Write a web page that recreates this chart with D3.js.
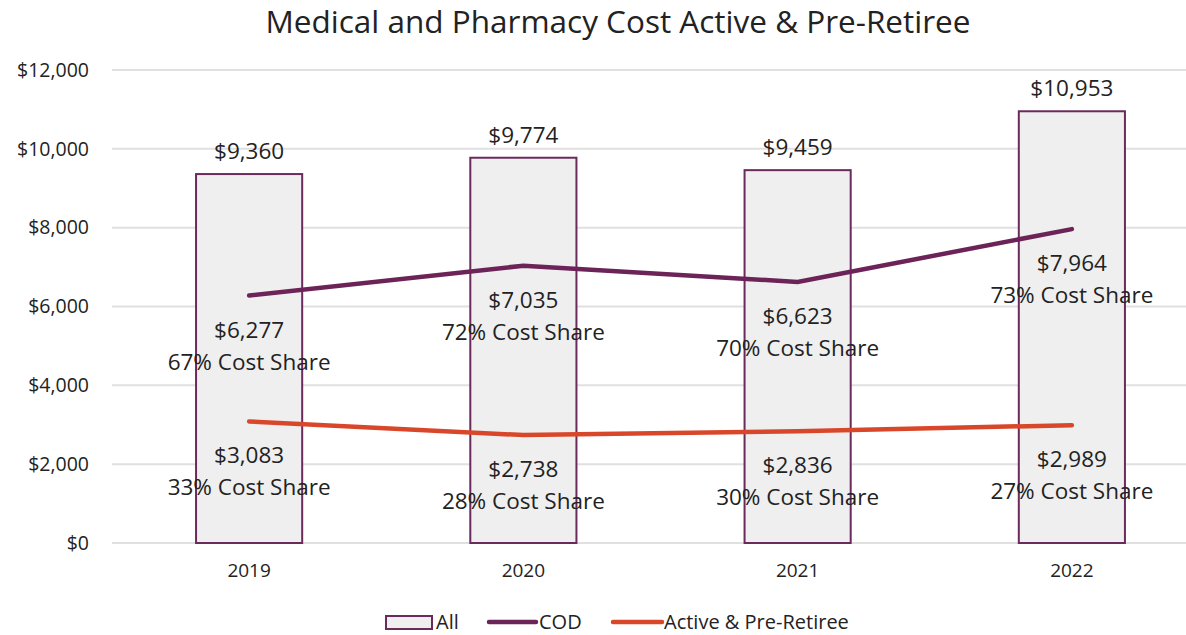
<!DOCTYPE html>
<html>
<head>
<meta charset="utf-8">
<script src="https://cdn.jsdelivr.net/npm/d3@7"></script>
<style>
  body { margin: 0; background: #fff; }
  text { font-family: "Open Sans", "Noto Sans", sans-serif; fill: #222; }
</style>
</head>
<body>
<div class="chart"></div>
<script>
// chart data
var years = ["2019", "2020", "2021", "2022"];
var allCost = [9360, 9774, 9459, 10953];
var codCost = [6277, 7035, 6623, 7964];
var codShare = [67, 72, 70, 73];
var activeCost = [3083, 2738, 2836, 2989];
var activeShare = [33, 28, 30, 27];
var yTicks = [0, 2000, 4000, 6000, 8000, 10000, 12000];

var svgWidth = 1186;
var svgHeight = 635;

var margin = { top: 70, left: 112 };
var plotRight = 1209;
var plotBottom = 543;

var svg = d3.select(".chart")
  .append("svg")
  .attr("width", svgWidth)
  .attr("height", svgHeight);

var x = d3.scaleBand()
  .domain(years)
  .range([margin.left, plotRight])
  .paddingInner(0.613)
  .paddingOuter(0.3065);

var xc = d => x(d) + x.bandwidth() / 2;

var y = d3.scaleLinear()
  .domain([0, 12000])
  .range([plotBottom, margin.top]);

var fmt = d3.format("$,");

// title
svg.append("text")
  .attr("x", 618)
  .attr("y", 33)
  .attr("text-anchor", "middle")
  .style("font-size", "31.5px")
  .text("Medical and Pharmacy Cost Active & Pre-Retiree");

// gridlines
svg.append("g")
  .selectAll("line")
  .data(yTicks)
  .enter()
  .append("line")
  .attr("x1", margin.left)
  .attr("x2", plotRight)
  .attr("y1", d => y(d))
  .attr("y2", d => y(d))
  .attr("stroke", "#e0e0e0")
  .attr("stroke-width", 2);

// y axis labels
var leftAxis = d3.axisLeft(y).tickValues(yTicks).tickFormat(fmt).tickSize(0).tickPadding(23);
var yAxisG = svg.append("g")
  .attr("transform", `translate(${margin.left}, 0)`)
  .call(leftAxis);
yAxisG.select(".domain").remove();
yAxisG.selectAll("text")
  .style("font-size", "19.5px")
  .style("font-family", "'Open Sans', 'Noto Sans', sans-serif")
  .attr("fill", "#222");

// x axis labels
var bottomAxis = d3.axisBottom(x).tickSize(0).tickPadding(21);
var xAxisG = svg.append("g")
  .attr("transform", `translate(0, ${plotBottom})`)
  .call(bottomAxis);
xAxisG.select(".domain").remove();
xAxisG.selectAll("text")
  .style("font-size", "19px")
  .style("font-family", "'Open Sans', 'Noto Sans', sans-serif")
  .attr("fill", "#222");

// bars
svg.append("g")
  .selectAll("rect")
  .data(years)
  .enter()
  .append("rect")
  .attr("x", d => x(d))
  .attr("y", (d, i) => y(allCost[i]))
  .attr("width", x.bandwidth())
  .attr("height", (d, i) => plotBottom - y(allCost[i]))
  .attr("fill", "#efefef")
  .attr("stroke", "#6b2a5c")
  .attr("stroke-width", 2);

// bar labels
svg.append("g")
  .selectAll("text")
  .data(years)
  .enter()
  .append("text")
  .attr("x", d => xc(d))
  .attr("y", (d, i) => y(allCost[i]) - 15)
  .attr("text-anchor", "middle")
  .style("font-size", "22.5px")
  .text((d, i) => fmt(allCost[i]));

// lines
var line = d3.line()
  .x(d => xc(d[0]))
  .y(d => y(d[1]));

svg.append("path")
  .datum(years.map((d, i) => [d, codCost[i]]))
  .attr("d", line)
  .attr("fill", "none")
  .attr("stroke", "#6b2358")
  .attr("stroke-width", 4.5)
  .attr("stroke-linecap", "round");

svg.append("path")
  .datum(years.map((d, i) => [d, activeCost[i]]))
  .attr("d", line)
  .attr("fill", "none")
  .attr("stroke", "#d9472b")
  .attr("stroke-width", 4.5)
  .attr("stroke-linecap", "round");

// line labels
function lineLabels(values, shares) {
  var g = svg.append("g");
  years.forEach(function(d, i) {
    var t = g.append("text")
      .attr("text-anchor", "middle")
      .style("font-size", "22.5px");
    t.append("tspan")
      .attr("x", xc(d))
      .attr("y", y(values[i]) + 42)
      .text(fmt(values[i]));
    t.append("tspan")
      .attr("x", xc(d))
      .attr("y", y(values[i]) + 74)
      .text(shares[i] + "% Cost Share");
  });
}
lineLabels(codCost, codShare);
lineLabels(activeCost, activeShare);

// legend
var legend = svg.append("g").attr("transform", "translate(0, 621)");
legend.append("rect")
  .attr("x", 386).attr("y", -5)
  .attr("width", 46).attr("height", 13)
  .attr("fill", "#efefef")
  .attr("stroke", "#6b2a5c")
  .attr("stroke-width", 2);
legend.append("text").attr("x", 436).attr("y", 7.5).style("font-size", "20px").text("All");
legend.append("line")
  .attr("x1", 489).attr("x2", 536).attr("y1", 1).attr("y2", 1)
  .attr("stroke", "#6b2358").attr("stroke-width", 4.5).attr("stroke-linecap", "round");
legend.append("text").attr("x", 539).attr("y", 7.5).style("font-size", "20px").text("COD");
legend.append("line")
  .attr("x1", 613).attr("x2", 662).attr("y1", 1).attr("y2", 1)
  .attr("stroke", "#d9472b").attr("stroke-width", 4.5).attr("stroke-linecap", "round");
legend.append("text").attr("x", 664).attr("y", 7.5).style("font-size", "20px").text("Active & Pre-Retiree");
</script>
</body>
</html>
